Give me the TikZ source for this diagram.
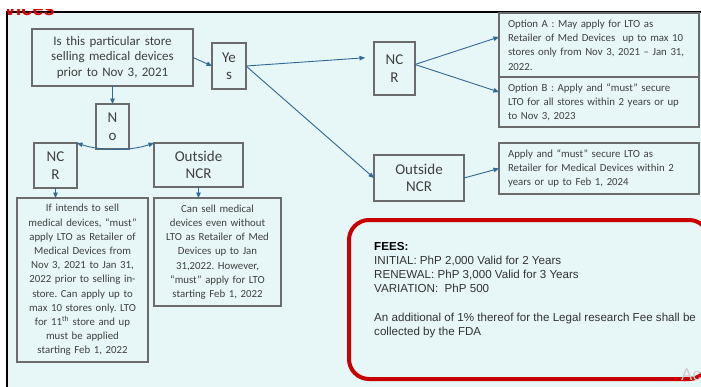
\documentclass[tikz,border=0pt]{standalone}
\usepackage{fontspec}
\setmainfont{Carlito}
\newfontfamily\arialfont{Liberation Sans}
\usetikzlibrary{arrows.meta}
\definecolor{panel}{HTML}{E7F6F6}
\definecolor{boxgray}{HTML}{6B6B6B}
\definecolor{boxtext}{HTML}{404040}
\definecolor{arrowblue}{HTML}{2F6A98}
\definecolor{feered}{HTML}{C80000}
\definecolor{titlered}{HTML}{E00000}
\definecolor{feetext}{HTML}{333333}
\frenchspacing

\tikzset{
  box/.style={draw=boxgray, line width=1.6pt, fill=panel, anchor=north west,
    inner sep=0pt, outer sep=0pt, text=boxtext, align=center},
  smalltxt/.style={font=\fontsize{10.8}{14.2}\selectfont},
  bigtxt/.style={font=\fontsize{15}{17.5}\selectfont},
  tip/.tip={Triangle[length=5.5pt,width=4.5pt]},
  arr/.style={draw=arrowblue, line width=0.9pt, -tip},
}

\begin{document}
\begin{tikzpicture}[x=1pt,y=-1pt]
\useasboundingbox (0,0) rectangle (701,386);
\clip (0,0) rectangle (701,386);
\fill[white] (0,0) rectangle (701,386);

% slide panel
\draw[black, line width=1.5pt, fill=panel] (7,12) rectangle (720,400);

% cropped slide title
\begin{scope}
  \clip (7,9) rectangle (200,17);
  \node[anchor=base east, text=titlered, inner sep=0pt,
        font=\arialfont\bfseries\fontsize{20}{24}\selectfont] (title) at (55,15) {Devices};
\end{scope}

% decision boxes
\node[box, minimum width=161pt, minimum height=57pt, text width=155pt,
      font=\fontsize{13}{15.5}\selectfont] (q) at (32,29)
  {Is this particular store\\selling medical devices\\prior to Nov 3, 2021};
\node[box, bigtxt, minimum width=34pt, minimum height=46pt] (yes) at (212,43) {Ye\\s};
\node[box, bigtxt, minimum width=33pt, minimum height=45pt] (no) at (96,104) {N\\o};

% "No" branch
\node[box, bigtxt, minimum width=43pt, minimum height=45pt] (ncrL) at (34,143) {NC\\R};
\node[box, bigtxt, minimum width=89pt, minimum height=44pt] (outL) at (154,143) {Outside\\NCR};
\node[box, smalltxt, minimum width=131pt, minimum height=164pt, text width=127pt] (lb) at (17,198)
  {If intends to sell\\medical devices, “must”\\apply LTO as Retailer of\\Medical Devices from\\Nov 3, 2021 to Jan 31,\\2022 prior to selling in-\\store. Can apply up to\\max 10 stores only. LTO\\for 11\textsuperscript{th} store and up\\must be applied\\starting Feb 1, 2022};
\node[box, smalltxt, minimum width=127pt, minimum height=108pt, text width=123pt] (mb) at (154,198)
  {Can sell medical\\devices even without\\LTO as Retailer of Med\\Devices up to Jan\\31,2022. However,\\“must” apply for LTO\\starting Feb 1, 2022};

% "Yes" branch
\node[box, bigtxt, minimum width=41pt, minimum height=53pt] (ncrR) at (374,42) {NC\\R};
\node[box, smalltxt, align=left, minimum width=200pt, minimum height=64pt, text width=182pt] (optA) at (499,13)
  {Option A : May apply for LTO as\\Retailer of Med Devices~ up to max 10\\stores only from Nov 3, 2021 – Jan 31,\\2022.};
\node[box, smalltxt, align=left, minimum width=200pt, minimum height=50pt, text width=182pt] (optB) at (499,77)
  {Option B : Apply and “must” secure\\LTO for all stores within 2 years or up\\to Nov 3, 2023};
\node[box, bigtxt, minimum width=90pt, minimum height=46pt] (outR) at (374,155) {Outside\\NCR};
\node[box, smalltxt, align=left, minimum width=200pt, minimum height=51pt, text width=182pt] (apply) at (499,143)
  {Apply and “must” secure LTO as\\Retailer for Medical Devices within 2\\years or up to Feb 1, 2024};

% fees panel
\node[draw=feered, line width=4pt, rounded corners=20pt, anchor=north west,
      minimum width=360pt, minimum height=159pt, inner sep=0pt] (fees) at (347,218) {};
\node[anchor=north west, inner sep=0pt, align=left, text=feetext,
      font=\arialfont\fontsize{11.6}{14.2}\selectfont] (feestext) at (374,242)
  {\textcolor{black}{\bfseries FEES:}\\INITIAL: PhP 2,000 Valid for 2 Years\\RENEWAL: PhP 3,000 Valid for 3 Years\\VARIATION:~ PhP 500\\[14.2pt]An additional of 1\% thereof for the Legal research Fee shall be\\collected by the FDA};

% connectors
\draw[arr] (q.east) -- (yes.west);
\draw[arr] (q.south) -- (no.north);
\draw[arr, shorten >=9pt] (yes.east) -- (ncrR.151);
\draw[arr] (yes.east) -- (outR.west);
\draw[arr] ([yshift=4pt]ncrR.east) -- ([yshift=8pt]optA.west);
\draw[arr] ([yshift=4pt]ncrR.east) -- ([yshift=10pt]optB.west);
\draw[arr] (outR.east) -- (apply.west);
\draw[arr] (ncrL.south) -- (ncrL.south |- lb.north);
\draw[arr] (outL.south) -- (outL.south |- mb.north);
\draw[arr, tip-tip] (ncrL.north east) .. controls (100,151) and (131,151) .. (outL.north west);

% watermark remnant
\node[anchor=base west, inner sep=0pt, text=gray!40,
      font=\arialfont\fontsize{17}{20}\selectfont] (wm) at (681,380) {Ac};
\end{tikzpicture}
\end{document}
